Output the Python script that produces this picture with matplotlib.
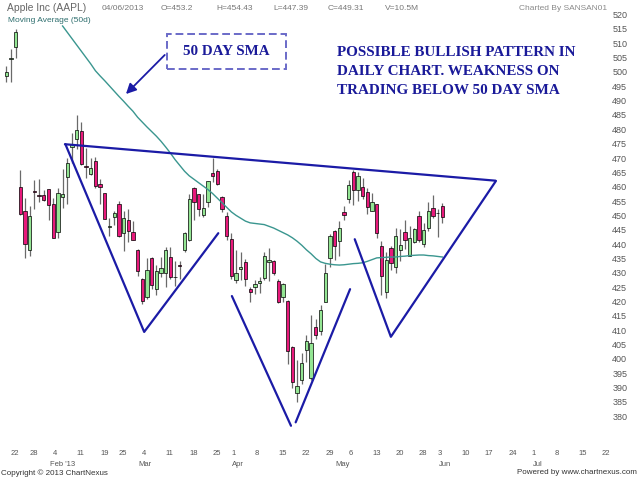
import matplotlib
matplotlib.use('Agg')
import matplotlib.pyplot as plt
from matplotlib.patches import Rectangle, FancyArrowPatch
import numpy as np
import pandas as pd

plt.rcParams['font.family'] = ['Liberation Sans', 'DejaVu Sans']

# trading days shown (holidays removed) + empty future space
holidays = ['2013-01-21', '2013-02-18', '2013-03-29', '2013-05-27']
days = pd.bdate_range('2013-01-18', '2013-06-04')
days = days[~days.isin(pd.to_datetime(holidays))]
future = pd.bdate_range('2013-06-05', '2013-07-26')
axis_days = days.append(future)

# daily OHLC, AAPL
opens = [498.5, 504.6, 508.8, 460.0, 451.7, 437.8, 458.5, 457.0, 457.0, 459.1,
         453.9, 444.1, 456.5, 463.3, 474.0, 476.5, 479.5, 467.2, 464.5, 468.9,
         461.1, 457.7, 446.0, 449.3, 453.9, 443.8, 448.4, 444.1, 438.0, 427.8,
         421.5, 435.2, 424.5, 429.8, 429.8, 435.6, 428.5, 432.8, 437.9, 441.5,
         459.5, 457.4, 450.0, 454.6, 464.7, 465.4, 456.5, 449.8, 441.9, 427.6,
         431.4, 433.8, 424.5, 424.9, 426.4, 428.1, 433.7, 434.2, 427.0, 421.5,
         420.3, 404.1, 388.0, 392.6, 403.0, 393.5, 411.2, 409.8, 420.0, 435.1,
         444.5, 441.0, 451.3, 455.7, 465.0, 459.0, 459.8, 458.0, 451.5, 453.9,
         439.2, 423.2, 438.7, 431.9, 437.8, 444.1, 436.0, 440.9, 449.9, 440.0,
         445.7, 452.5, 450.7, 453.2]
highs = [502.2, 507.9, 515.0, 465.7, 456.2, 453.2, 462.3, 462.6, 459.0, 459.3,
         455.9, 459.7, 466.2, 470.0, 478.8, 484.9, 482.4, 473.6, 470.0, 470.2,
         462.7, 457.7, 449.2, 451.6, 455.1, 451.5, 452.4, 447.9, 438.2, 428.2,
         435.2, 435.4, 432.6, 435.4, 439.0, 438.9, 434.0, 434.0, 444.2, 457.5,
         460.0, 457.6, 457.5, 462.1, 469.9, 466.0, 456.9, 451.1, 443.7, 438.1,
         437.3, 434.8, 424.9, 427.5, 428.5, 437.1, 438.5, 434.4, 427.9, 426.6,
         420.6, 404.5, 399.6, 402.2, 408.4, 415.3, 413.9, 418.8, 433.0, 443.5,
         444.9, 448.2, 453.2, 462.2, 465.8, 465.0, 463.0, 459.7, 457.9, 454.0,
         441.0, 437.4, 439.5, 445.5, 445.3, 448.4, 446.2, 445.7, 451.6, 447.5,
         454.5, 457.1, 452.1, 454.4]
lows = [496.4, 496.6, 504.8, 450.3, 435.0, 435.9, 452.1, 454.5, 455.0, 448.4,
        442.0, 442.2, 452.6, 454.1, 468.3, 473.2, 467.7, 463.2, 464.1, 459.5,
        453.9, 448.8, 442.9, 446.6, 442.6, 437.7, 440.6, 441.4, 429.0, 419.0,
        420.8, 424.4, 422.1, 428.6, 425.1, 428.0, 425.5, 428.0, 437.3, 441.0,
        448.5, 449.8, 449.5, 453.1, 461.8, 460.7, 451.3, 441.6, 427.7, 426.4,
        427.5, 425.5, 419.7, 422.5, 422.8, 427.6, 427.0, 429.3, 419.5, 420.0,
        398.1, 389.7, 385.1, 391.3, 398.8, 392.7, 407.0, 408.3, 419.8, 432.1,
        434.4, 436.0, 448.3, 454.3, 453.7, 455.1, 455.6, 450.5, 451.5, 442.2,
        422.4, 421.3, 431.1, 430.1, 434.0, 438.2, 435.8, 440.4, 440.9, 439.0,
        444.5, 449.1, 442.4, 447.4]
closes = [500.0, 504.8, 514.0, 450.5, 439.9, 449.8, 458.3, 456.8, 455.5, 453.6,
          442.3, 457.8, 457.4, 468.2, 475.0, 479.9, 467.9, 467.0, 466.6, 460.2,
          460.0, 448.9, 446.1, 450.8, 442.8, 449.0, 444.6, 441.4, 430.5, 420.1,
          431.1, 425.7, 430.6, 431.7, 437.9, 428.4, 428.4, 432.5, 443.7, 455.7,
          454.5, 452.1, 452.7, 461.9, 463.6, 461.1, 452.1, 442.7, 428.9, 429.8,
          432.0, 427.7, 423.2, 426.2, 427.0, 435.7, 434.3, 429.8, 419.9, 426.2,
          402.8, 392.1, 390.5, 398.7, 406.1, 405.5, 408.4, 417.2, 430.1, 442.8,
          439.3, 445.5, 450.0, 460.7, 458.7, 463.8, 456.8, 453.0, 454.7, 443.9,
          428.9, 434.6, 433.3, 442.9, 439.7, 441.4, 442.1, 445.2, 441.4, 445.0,
          451.6, 449.7, 450.7, 449.3]

# 50 day simple moving average, from 6 Feb
ma_start = '2013-02-06'
ma50 = [516.0, 513.8, 511.6, 509.4, 507.2, 505.0, 502.8, 500.4, 498.6, 496.9,
        495.1, 493.3, 491.5, 489.8, 488.0, 486.3, 484.2, 482.5, 480.8, 479.2,
        477.6, 475.8, 473.8, 471.7, 469.4, 467.4, 465.4, 463.8, 462.6, 461.4,
        460.2, 459.0, 457.6, 456.0, 454.4, 452.8, 451.2, 450.0, 449.0, 448.0,
        447.4, 447.2, 447.0, 446.8, 446.2, 445.6, 444.8, 444.0, 443.2, 442.2,
        441.0, 439.6, 438.0, 436.6, 435.0, 433.8, 433.3, 433.0, 432.8, 432.7,
        432.8, 433.0, 433.2, 433.3, 433.5, 434.0, 434.6, 435.2, 435.3, 435.4,
        435.5, 435.5, 435.7, 435.8, 436.0, 436.1, 436.2, 436.2, 436.0, 435.9,
        435.7, 435.5]

# hand drawn pattern lines (day index, price)
neckline = [(12.5, 474.8), (104.3, 462.1)]
left_shoulder = [(12.6, 474.8), (29.4, 409.4), (45.2, 443.8)]
head_left = [(48.1, 421.9), (60.7, 376.7)]
head_right = [(61.7, 377.9), (73.3, 424.3)]
right_shoulder = [(74.3, 441.7), (82.0, 407.7), (104.4, 462.0)]

tick_days = ['2013-01-22', '2013-01-28', '2013-02-04', '2013-02-11', '2013-02-19',
             '2013-02-25', '2013-03-04', '2013-03-11', '2013-03-18', '2013-03-25',
             '2013-04-01', '2013-04-08', '2013-04-15', '2013-04-22', '2013-04-29',
             '2013-05-06', '2013-05-13', '2013-05-20', '2013-05-28', '2013-06-03',
             '2013-06-10', '2013-06-17', '2013-06-24', '2013-07-01', '2013-07-08',
             '2013-07-15', '2013-07-22']
month_names = ["Feb '13", 'Mar', 'Apr', 'May', 'Jun', 'Jul']
month_starts = ['2013-02-01', '2013-03-01', '2013-04-01', '2013-05-01',
                '2013-06-03', '2013-07-01']

W, H = 640, 480
fig = plt.figure(figsize=(6.4, 4.8), dpi=100)
ax = fig.add_axes([0, 1 - 438 / H, 608 / W, (438 - 5) / H])
ax.set_xlim(-1.345, 128.3)
ax.set_ylim(372.44, 523.31)

x = np.arange(len(days))
o, h, l, c = map(np.array, (opens, highs, lows, closes))
up = c >= o
ax.vlines(x, l, h, color='#6a6a6a', lw=0.9, zorder=1)
bottoms = np.minimum(o, c)
heights = np.maximum(np.abs(c - o), 0.15)
ax.bar(x, heights, bottom=bottoms, width=0.7,
       color=np.where(up, '#93e593', '#e8197b'),
       edgecolor='black', linewidth=0.5, zorder=2)

i0 = axis_days.get_loc(pd.Timestamp(ma_start))
ax.plot(np.arange(i0, i0 + len(ma50)), ma50, color='#3a968f', lw=1.0, zorder=3)

for line in (neckline, left_shoulder, head_left, head_right, right_shoulder):
    xs, ys = zip(*line)
    ax.plot(xs, ys, color='#1b1ba6', lw=1.6, zorder=4, clip_on=False,
            solid_capstyle='round')

for s in ax.spines.values():
    s.set_visible(False)
ax.yaxis.tick_right()
ax.set_yticks(range(380, 521, 5))
ax.tick_params(axis='y', length=0, pad=3, labelsize=6.5, labelcolor='#555555')
tick_pos = axis_days.get_indexer(pd.to_datetime(tick_days))
ax.set_xticks(tick_pos)
ax.set_xticklabels([str(pd.Timestamp(d).day) for d in tick_days])
ax.tick_params(axis='x', length=0, pad=8.5, labelsize=5.5, labelcolor='#555555')
for t in ax.get_xticklabels():
    t.set_ha('left')
for name, d in zip(month_names, month_starts):
    ax.annotate(name, xy=(axis_days.get_loc(pd.Timestamp(d)), 0),
                xycoords=ax.get_xaxis_transform(), xytext=(1, -26),
                textcoords='offset pixels', ha='left', va='center',
                fontsize=5.5, color='#555555')

# header
fig.text(7 / W, 1 - 8 / H, 'Apple Inc (AAPL)', fontsize=7.4, color='#666666', va='center')
for s, px in [('04/06/2013', 102), ('O=453.2', 161), ('H=454.43', 216),
              ('L=447.39', 273), ('C=449.31', 328), ('V=10.5M', 385)]:
    fig.text(px / W, 1 - 8 / H, s, fontsize=6, color='#777777', va='center')
fig.text(607 / W, 1 - 8 / H, 'Charted By SANSAN01', fontsize=6, color='#8a8a8a',
         va='center', ha='right')
fig.text(8 / W, 1 - 20.5 / H, 'Moving Average (50d)', fontsize=6, color='#2e6e6e', va='center')

# footer
fig.text(1 / W, 1 - 473 / H, 'Copyright \u00a9 2013 ChartNexus', fontsize=5.8,
         color='#333333', va='center')
fig.text(637 / W, 1 - 473 / H, 'Powered by www.chartnexus.com', fontsize=5.8,
         color='#333333', va='center', ha='right')

# annotations
navy = '#1a1a99'
serif = ['Liberation Serif', 'DejaVu Serif']
box = Rectangle((166.7 / W, 1 - 69 / H), (286 - 166.7) / W, (69 - 34.3) / H,
                transform=fig.transFigure, fill=False, edgecolor='#6a6ac8',
                lw=1.4, linestyle=(0, (4, 2)))
fig.add_artist(box)
fig.text(226 / W, 1 - 51.5 / H, '50 DAY SMA', fontsize=10.8, fontweight='bold',
         family=serif, color=navy, ha='center', va='center')
arrow = FancyArrowPatch((166.7 / W, 1 - 53 / H), (124 / W, 1 - 96 / H),
                        transform=fig.transFigure, arrowstyle='-|>',
                        mutation_scale=15, color='#1b1ba6', lw=1.3)
fig.add_artist(arrow)
for s, py in [('POSSIBLE BULLISH PATTERN IN', 52.5),
              ('DAILY CHART. WEAKNESS ON', 71.5),
              ('TRADING BELOW 50 DAY SMA', 91)]:
    fig.text(337 / W, 1 - py / H, s, fontsize=10.9, fontweight='bold',
             family=serif, color=navy, ha='left', va='center')

fig.savefig('out.png', dpi=100)
